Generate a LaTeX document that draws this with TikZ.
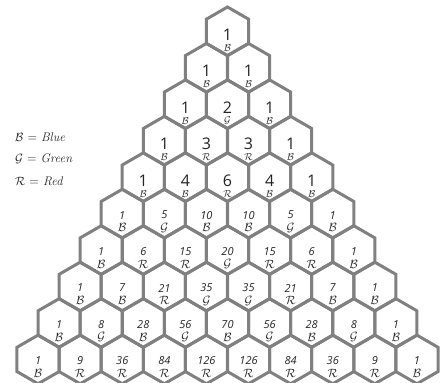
\documentclass[tikz,border=0pt]{standalone}
\usepackage{fontspec}
\newfontfamily\numfont{Open Sans}
\definecolor{hexgray}{RGB}{128,128,128}
\definecolor{txt}{RGB}{35,35,35}
\begin{document}
\begin{tikzpicture}[x=1pt,y=-1pt,
  hexline/.style={draw=hexgray,line width=3pt,line join=miter},
  bignum/.style={inner sep=0pt,text=txt,font=\numfont\fontsize{16}{16}\selectfont},
  smallnum/.style={inner sep=0pt,text=txt,font=\numfont\itshape\fontsize{11}{11}\selectfont},
  bigletter/.style={inner sep=0pt,text=txt,font=\fontsize{10}{10}\selectfont},
  smallletter/.style={inner sep=0pt,text=txt,font=\fontsize{12}{12}\selectfont},
  legend/.style={inner sep=0pt,anchor=west,text=txt,font=\fontsize{12.5}{12.5}\selectfont}]
\useasboundingbox (0,0) rectangle (445,383);
\def\R{24.31}
\foreach \row [count=\r from 0] in {{1},{1,1},{1,2,1},{1,3,3,1},{1,4,6,4,1},
  {1,5,10,10,5,1},{1,6,15,20,15,6,1},{1,7,21,35,35,21,7,1},
  {1,8,28,56,70,56,28,8,1},{1,9,36,84,126,126,84,36,9,1}}{
  \foreach \v [count=\k from 0] in \row {
    \pgfmathsetmacro{\px}{227.5+(\k-\r/2)*42.1}
    \pgfmathsetmacro{\py}{31.3+\r*36.46}
    \pgfmathtruncatemacro{\m}{mod(\v,3)}
    \coordinate (h-\r-\k) at (\px,\py);
    \draw[hexline] ([shift={(90:\R)}]h-\r-\k) -- ([shift={(30:\R)}]h-\r-\k)
      -- ([shift={(-30:\R)}]h-\r-\k) -- ([shift={(-90:\R)}]h-\r-\k)
      -- ([shift={(-150:\R)}]h-\r-\k) -- ([shift={(150:\R)}]h-\r-\k) -- cycle;
    \ifnum\r<5
      \node[bignum] (n-\r-\k) at ([yshift=-3.5pt]h-\r-\k) {\v};
      \node[bigletter] (l-\r-\k) at ([yshift=-16.5pt]h-\r-\k)
        {$\ifcase\m\mathcal{R}\or\mathcal{B}\or\mathcal{G}\fi$};
    \else
      \node[smallnum] (n-\r-\k) at ([yshift=-1.5pt]h-\r-\k) {\v};
      \node[smallletter] (l-\r-\k) at ([yshift=-14pt]h-\r-\k)
        {$\ifcase\m\mathcal{R}\or\mathcal{B}\or\mathcal{G}\fi$};
    \fi
  }
}
\node[legend] (legB) at (15,137) {$\mathcal{B}$ = \textit{Blue}};
\node[legend] (legG) at (15,159) {$\mathcal{G}$ = \textit{Green}};
\node[legend] (legR) at (15,181) {$\mathcal{R}$ = \textit{Red}};
\end{tikzpicture}
\end{document}
